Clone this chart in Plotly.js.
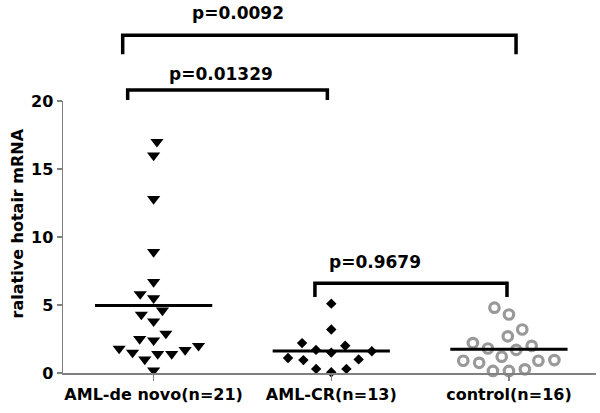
<!DOCTYPE html>
<html>
<head>
<meta charset="utf-8">
<script src="https://cdn.plot.ly/plotly-3.0.1.min.js"></script>
<style>html,body{margin:0;padding:0;background:#fff;}#chart{width:600px;height:413px;}</style>
</head>
<body>
<div id="chart"></div>
<script>
// ---- data ----
const categories = ['AML-de novo(n=21)', 'AML-CR(n=13)', 'control(n=16)'];
const deNovo = [17.0, 16.0, 12.8, 8.9, 6.7, 5.8, 5.5, 4.6, 4.3, 3.8, 2.9, 2.5, 2.4, 2.0, 1.8, 1.7, 1.5, 1.4, 1.4, 1.0, 0.2];
const amlCR = [5.1, 3.2, 2.2, 2.0, 1.7, 1.6, 1.5, 1.1, 1.0, 0.95, 0.3, 0.3, 0.05];
const control = [4.8, 4.3, 3.2, 2.7, 2.2, 2.0, 1.8, 1.7, 1.2, 0.95, 0.9, 0.9, 0.75, 0.27, 0.15, 0.15];
const pLabels = ['p=0.0092', 'p=0.01329', 'p=0.9679'];
const yTicks = [0, 5, 10, 15, 20];

// ---- layout geometry ----
const W = 600, H = 413;
const M = {l: 63, r: 4, t: 101, b: 40};
const XR = [-0.51, 2.49], YR = [0, 20];
const pxPerX = (W - M.l - M.r) / (XR[1] - XR[0]);
const pxPerY = (H - M.t - M.b) / (YR[1] - YR[0]);
const px = x => (x - XR[0]) / (XR[1] - XR[0]); // data x -> paper x

// deterministic beeswarm: returns x offsets (data units) for each value
function beeswarm(vals, diam) {
  const order = vals.map((v, i) => i).sort((a, b) => vals[a] - vals[b]);
  const placed = [];
  const offs = new Array(vals.length).fill(0);
  let lastSign = 1;
  order.forEach(i => {
    const y = vals[i] * pxPerY;
    const cands = [0];
    placed.forEach(p => {
      const dy = Math.abs(p.y - y);
      if (dy < diam) {
        const dx = Math.sqrt(diam * diam - dy * dy);
        cands.push(p.x + dx + 0.01, p.x - dx - 0.01);
      }
    });
    const ok = cands.filter(c => placed.every(p => Math.hypot(p.x - c, p.y - y) >= diam - 0.05));
    ok.sort((a, b) => {
      const d = Math.abs(a) - Math.abs(b);
      if (Math.abs(d) > 0.5) return d;
      return (Math.sign(b) === -lastSign ? 1 : 0) - (Math.sign(a) === -lastSign ? 1 : 0);
    });
    const xo = ok[0];
    if (xo !== 0) lastSign = Math.sign(xo);
    placed.push({x: xo, y: y});
    offs[i] = xo / pxPerX;
  });
  return offs;
}

const groups = [deNovo, amlCR, control];
const markerDefs = [
  {symbol: 'triangle-down', size: 11.5, color: '#000'},
  {symbol: 'diamond', size: 8, color: '#000'},
  {symbol: 'circle-open', size: 9.5, color: '#999999', line: {color: '#999999', width: 3.2}}
];
const swarmDiam = [14, 15.5, 16];

const traces = [];
groups.forEach((vals, g) => {
  const offs = beeswarm(vals, swarmDiam[g]);
  traces.push({
    type: 'scatter', mode: 'markers',
    x: vals.map((v, i) => g + offs[i]), y: vals,
    marker: markerDefs[g], cliponaxis: false, showlegend: false, hoverinfo: 'y'
  });
  const mean = vals.reduce((a, b) => a + b, 0) / vals.length;
  traces.push({
    type: 'scatter', mode: 'lines',
    x: [g - 0.33, g + 0.33], y: [mean, mean],
    line: {color: '#000', width: 3}, cliponaxis: false, showlegend: false, hoverinfo: 'skip'
  });
});

// bracket geometry (offsets from group centres, paper heights)
const brackets = [
  {a: 0, b: 2, lo: -0.174, ro: 0.040, top: 1.2415, bot: 1.172, lx: 0.474, ly: 1.3243},
  {a: 0, b: 1, lo: -0.146, ro: -0.022, top: 1.0404, bot: 1.0037, lx: 0.379, ly: 1.1004},
  {a: 1, b: 2, lo: -0.092, ro: -0.011, top: 0.3298, bot: 0.2794, lx: 1.246, ly: 0.4099}
];
const font = {family: 'DejaVu Sans, Arial, sans-serif', weight: 'bold', color: '#000'};
const shapes = brackets.map(br => {
  const x1 = px(br.a + br.lo), x2 = px(br.b + br.ro);
  return {
    type: 'path', xref: 'paper', yref: 'paper',
    path: `M${x1},${br.bot} L${x1},${br.top} L${x2},${br.top} L${x2},${br.bot}`,
    line: {color: '#000', width: 3.5}
  };
});
const annotations = brackets.map((br, k) => ({
  xref: 'paper', yref: 'paper', x: px(br.lx), y: br.ly,
  text: pLabels[k], showarrow: false, xanchor: 'center', yanchor: 'middle',
  font: Object.assign({}, font, {size: 17})
}));
annotations.push({
  xref: 'paper', yref: 'paper', x: (17 - M.l) / (W - M.l - M.r), y: 0.55,
  text: 'ralative hotair mRNA', textangle: -90, showarrow: false,
  xanchor: 'center', yanchor: 'middle', font: Object.assign({}, font, {size: 16})
});

const layout = {
  width: W, height: H, margin: M,
  paper_bgcolor: '#fff', plot_bgcolor: '#fff',
  showlegend: false,
  xaxis: {
    range: XR, tickvals: [0, 1, 2], ticktext: categories,
    showgrid: false, zeroline: false, showline: true, linecolor: '#808080', linewidth: 1.5,
    ticks: 'outside', ticklen: 6, tickwidth: 1.5, tickcolor: '#808080',
    tickfont: Object.assign({}, font, {size: 16})
  },
  yaxis: {
    range: YR, tickvals: yTicks, ticktext: yTicks.map(String),
    showgrid: false, zeroline: false, showline: true, linecolor: '#808080', linewidth: 1.5,
    ticks: 'outside', ticklen: 5, tickwidth: 1.5, tickcolor: '#808080',
    tickfont: Object.assign({}, font, {size: 16})
  },
  shapes: shapes,
  annotations: annotations
};

Plotly.newPlot('chart', traces, layout, {staticPlot: true, displayModeBar: false});
</script>
</body>
</html>
